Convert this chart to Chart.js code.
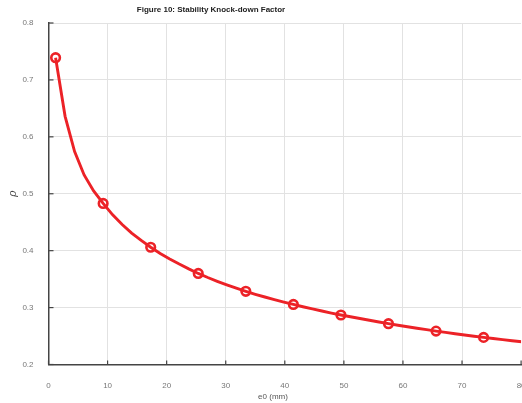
<!DOCTYPE html>
<html>
<head>
<meta charset="utf-8">
<script src="https://cdn.jsdelivr.net/npm/chart.js@4/dist/chart.umd.min.js"></script>
<style>
  html, body { margin: 0; padding: 0; background: #fff; overflow: hidden; }
  #wrap { width: 522px; height: 403px; overflow: hidden; }
</style>
</head>
<body>
<div id="wrap"><canvas id="chart" width="528" height="403"></canvas></div>
<script>
// e0 (mm) sample positions along the curve
const e0Values = [
  1.2, 2.81, 4.42, 6.03, 7.64, 9.25, 10.86, 12.47, 14.08, 15.69,
  17.3, 18.91, 20.52, 22.13, 23.74, 25.35, 26.96, 28.57, 30.18, 31.79,
  33.4, 35.01, 36.62, 38.23, 39.84, 41.45, 43.06, 44.67, 46.28, 47.89,
  49.5, 51.11, 52.72, 54.33, 55.94, 57.55, 59.16, 60.77, 62.38, 63.99,
  65.6, 67.21, 68.82, 70.43, 72.04, 73.65, 75.26, 76.87, 78.48, 80.09,
];
// knock-down factor rho
const rhoValues = [
  0.739, 0.636, 0.574, 0.533, 0.505, 0.483, 0.463, 0.446, 0.431, 0.418,
  0.406, 0.395, 0.3855, 0.3765, 0.368, 0.360, 0.3528, 0.3462, 0.340, 0.3341,
  0.3286, 0.3234, 0.3186, 0.3141, 0.3097, 0.3055, 0.3015, 0.2977, 0.294, 0.2904,
  0.287, 0.2839, 0.2808, 0.2777, 0.2747, 0.2717, 0.269, 0.2663, 0.2637, 0.2612,
  0.2587, 0.2564, 0.2541, 0.2519, 0.2497, 0.2476, 0.2456, 0.2437, 0.2418, 0.24,
];
// every fifth sample carries a circle marker
const markerIndex = [0, 5, 10, 15, 20, 25, 30, 35, 40, 45];
const xTicks = [0, 10, 20, 30, 40, 50, 60, 70, 80];
const yTicks = [0.2, 0.3, 0.4, 0.5, 0.6, 0.7, 0.8];

const chartTitle = 'Figure 10: Stability Knock-down Factor';
const xTitle = 'e0 (mm)';
const yTitle = 'ρ';

const RED = '#ec2227';
const GRID = '#e2e2e2';
const FONT = '"Liberation Sans", Arial, sans-serif';

const curve = e0Values.map((x, i) => ({ x, y: rhoValues[i] }));
const markers = markerIndex.map(i => ({ x: e0Values[i], y: rhoValues[i] }));

// inward tick marks + captions
const extras = {
  id: 'extras',
  afterDraw(chart) {
    const { ctx, chartArea, scales } = chart;
    ctx.save();
    ctx.strokeStyle = '#444';
    ctx.lineWidth = 1.2;
    xTicks.forEach(v => {
      const px = scales.x.getPixelForValue(v);
      ctx.beginPath();
      ctx.moveTo(px, chartArea.bottom);
      ctx.lineTo(px, chartArea.bottom - 4);
      ctx.stroke();
    });
    yTicks.forEach(v => {
      const py = scales.y.getPixelForValue(v);
      ctx.beginPath();
      ctx.moveTo(chartArea.left, py);
      ctx.lineTo(chartArea.left + 5, py);
      ctx.stroke();
    });
    ctx.fillStyle = '#222';
    ctx.font = 'bold 8px ' + FONT;
    ctx.textAlign = 'center';
    ctx.textBaseline = 'middle';
    ctx.fillText(chartTitle, 211, 9.5);
    ctx.fillStyle = '#555';
    ctx.font = '8px ' + FONT;
    ctx.fillText(xTitle, 273, 397);
    ctx.restore();
  },
};

new Chart(document.getElementById('chart'), {
  type: 'line',
  data: {
    datasets: [
      {
        data: curve,
        borderColor: RED,
        borderWidth: 2.9,
        pointRadius: 0,
        tension: 0,
        fill: false,
      },
      {
        data: markers,
        showLine: false,
        pointStyle: 'circle',
        pointRadius: 4.3,
        pointBorderWidth: 2.6,
        pointBorderColor: RED,
        pointBackgroundColor: 'rgba(255,255,255,0)',
      },
    ],
  },
  options: {
    responsive: false,
    devicePixelRatio: 1,
    animation: false,
    layout: { padding: { top: 23, right: 4.5, left: 0, bottom: 0 } },
    plugins: { legend: { display: false }, tooltip: { enabled: false }, title: { display: false } },
    scales: {
      x: {
        type: 'linear',
        min: 0,
        max: 80,
        afterBuildTicks: s => { s.ticks = xTicks.map(value => ({ value })); },
        afterFit: s => { s.height = 38.5; s.paddingLeft = 0; s.paddingRight = 0; },
        grid: {
          color: c => (c.tick && c.tick.value === 80 ? 'rgba(0,0,0,0)' : GRID),
          lineWidth: 1,
          drawTicks: false,
        },
        border: { color: '#444', width: 1.5 },
        ticks: { color: '#777', font: { family: FONT, size: 8 }, padding: 16, maxRotation: 0 },
      },
      y: {
        type: 'linear',
        min: 0.2,
        max: 0.8,
        afterBuildTicks: s => { s.ticks = yTicks.map(value => ({ value })); },
        afterFit: s => { s.width = 48.5; s.paddingTop = 0; s.paddingBottom = 0; },
        grid: { color: GRID, lineWidth: 1, drawTicks: false },
        border: { color: '#444', width: 1.5 },
        ticks: {
          color: '#777',
          font: { family: FONT, size: 8 },
          padding: 15,
          callback: v => v.toFixed(1),
        },
        title: {
          display: true,
          text: yTitle,
          color: '#444',
          font: { family: '"DejaVu Serif", serif', size: 11, style: 'italic' },
          padding: { top: 7, bottom: 0 },
        },
      },
    },
  },
  plugins: [extras],
});
</script>
</body>
</html>
